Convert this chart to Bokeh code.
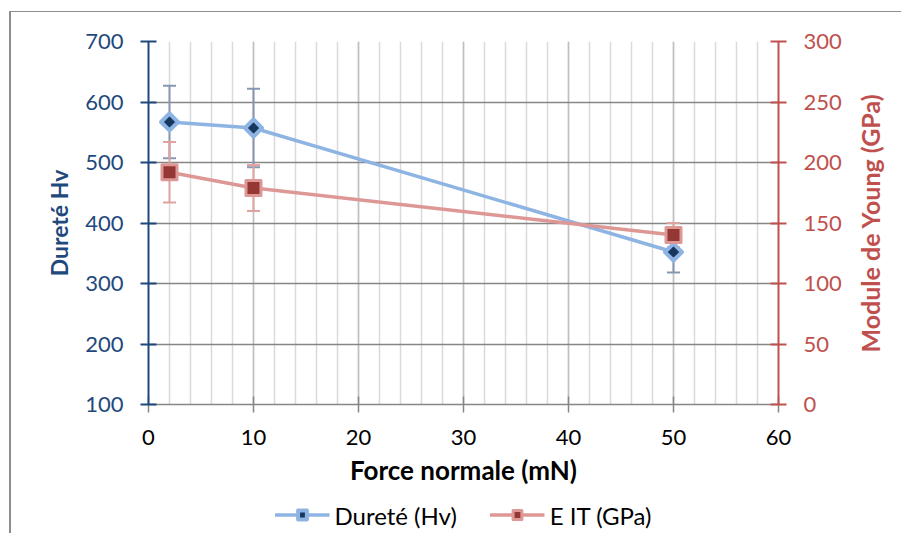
import math
from bokeh.plotting import figure
from bokeh.layouts import row, column
from bokeh.models import (Range1d, LinearAxis, SingleIntervalTicker, FixedTicker,
                          ColumnDataSource, Whisker, TeeHead, Legend, LegendItem)
from bokeh.embed import file_html
from bokeh.resources import INLINE

# ---- data ----
force = [2, 10, 50]                 # Force normale (mN)
durete = [567, 557, 352]            # Dureté Hv
durete_err = [60, 65, 34]
eit = [192, 179, 140]               # E IT (GPa)
eit_err = [25, 19, 10]

FONT = "Lato"
BLUE_AX = "#1F497D"
RED_AX = "#C0504D"
BLUE_LINE = "#8EB4E3"
BLUE_FILL = "#17375E"
BLUE_ERR = "#8797B2"
RED_LINE = "#DD9896"
RED_FILL = "#953735"
RED_ERR = "#E0A3A1"

W_MAIN = 840
H_MAIN = 484
p = figure(width=W_MAIN, height=H_MAIN, output_backend="svg", toolbar_location=None,
           x_range=Range1d(0, 60), y_range=Range1d(100, 700),
           min_border_left=137, min_border_right=73, min_border_top=29,
           min_border_bottom=92, outline_line_color=None,
           background_fill_color="white", border_fill_color="white")
p.extra_y_ranges = {"right": Range1d(0, 300)}

# ---- grids ----
xticker = SingleIntervalTicker(interval=10, num_minor_ticks=5)
yticker = SingleIntervalTicker(interval=100)
p.xgrid.ticker = xticker
p.xgrid.grid_line_color = "#BFBFBF"
p.xgrid.grid_line_width = 1.5
p.xgrid.minor_grid_line_color = "#DADADA"
p.xgrid.minor_grid_line_width = 1.5
p.ygrid.ticker = yticker
p.ygrid.grid_line_color = "#868686"
p.ygrid.grid_line_width = 1.5

# ---- x axis ----
xa = p.xaxis[0]
xa.ticker = xticker
xa.axis_line_color = "#868686"
xa.axis_line_width = 1.5
xa.major_tick_line_color = "#868686"
xa.major_tick_line_width = 1.5
xa.major_tick_in = 8
xa.major_tick_out = 8
xa.minor_tick_line_color = None
xa.major_label_text_font = FONT
xa.major_label_text_font_size = "22px"
xa.major_label_text_color = "black"
xa.major_label_standoff = 17
xa.axis_label = "Force normale (mN)"
xa.axis_label_text_font = FONT
xa.axis_label_text_font_size = "26px"
xa.axis_label_text_font_style = "bold"
xa.axis_label_text_color = "black"
xa.axis_label_standoff = 6

# ---- left axis ----
ya = p.yaxis[0]
ya.ticker = yticker
ya.axis_line_color = BLUE_AX
ya.axis_line_width = 2
ya.major_tick_line_color = BLUE_AX
ya.major_tick_line_width = 2
ya.major_tick_in = 8
ya.major_tick_out = 8
ya.minor_tick_line_color = None
ya.major_label_text_font = FONT
ya.major_label_text_font_size = "22px"
ya.major_label_text_color = BLUE_AX
ya.major_label_standoff = 17
ya.axis_label = "Dureté Hv"
ya.axis_label_text_font = FONT
ya.axis_label_text_font_size = "23px"
ya.axis_label_text_font_style = "bold"
ya.axis_label_text_color = BLUE_AX
ya.axis_label_standoff = 9

# ---- right axis ----
ra = LinearAxis(y_range_name="right", ticker=SingleIntervalTicker(interval=50))
ra.axis_line_color = RED_AX
ra.axis_line_width = 2
ra.major_tick_line_color = RED_AX
ra.major_tick_line_width = 2
ra.major_tick_in = 8
ra.major_tick_out = 8
ra.minor_tick_line_color = None
ra.major_label_text_font = FONT
ra.major_label_text_font_size = "22px"
ra.major_label_text_color = RED_AX
ra.major_label_standoff = 17
p.add_layout(ra, "right")

# ---- error bars ----
bsrc = ColumnDataSource(dict(x=force, y=durete,
                             lo=[v - e for v, e in zip(durete, durete_err)],
                             hi=[v + e for v, e in zip(durete, durete_err)]))
rsrc = ColumnDataSource(dict(x=force, y=eit,
                             lo=[v - e for v, e in zip(eit, eit_err)],
                             hi=[v + e for v, e in zip(eit, eit_err)]))

bw = Whisker(base="x", upper="hi", lower="lo", source=bsrc, dimension="height",
             line_color=BLUE_ERR, line_width=2, level="underlay",
             upper_head=TeeHead(size=13, line_color=BLUE_ERR, line_width=2),
             lower_head=TeeHead(size=13, line_color=BLUE_ERR, line_width=2))
rw = Whisker(base="x", upper="hi", lower="lo", source=rsrc, dimension="height",
             y_range_name="right",
             line_color=RED_ERR, line_width=2, level="underlay",
             upper_head=TeeHead(size=13, line_color=RED_ERR, line_width=2),
             lower_head=TeeHead(size=13, line_color=RED_ERR, line_width=2))
p.add_layout(bw)
p.add_layout(rw)

# ---- series ----
line_b = dict(line_color=BLUE_LINE, line_width=3.5)
mark_b = dict(marker="square", angle=math.pi / 4, size=12, fill_color=BLUE_FILL,
              line_color=BLUE_LINE, line_width=4, line_join="round")
line_r = dict(line_color=RED_LINE, line_width=3.5)
mark_r = dict(marker="square", size=15, fill_color=RED_FILL, line_color=RED_LINE,
              line_width=3, line_join="round")

p.line("x", "y", source=bsrc, **line_b)
p.scatter("x", "y", source=bsrc, **mark_b)
p.line("x", "y", source=rsrc, y_range_name="right", **line_r)
p.scatter("x", "y", source=rsrc, y_range_name="right", **mark_r)

# ---- narrow companion figure carrying the right-hand axis title ----
p2 = figure(width=50, height=H_MAIN, output_backend="svg", toolbar_location=None,
            x_range=Range1d(0, 1), y_range=Range1d(0, 300),
            min_border_left=28, min_border_right=0, min_border_top=29,
            min_border_bottom=92, outline_line_color=None,
            background_fill_color="white", border_fill_color="white")
p2.xaxis.visible = False
p2.grid.visible = False
a2 = p2.yaxis[0]
a2.ticker = FixedTicker(ticks=[])
a2.axis_line_color = None
a2.major_tick_line_color = None
a2.minor_tick_line_color = None
a2.major_tick_out = 0
a2.major_tick_in = 0
a2.axis_label = "Module de Young (GPa)"
a2.axis_label_text_font = FONT
a2.axis_label_text_font_size = "25px"
a2.axis_label_text_font_style = "bold"
a2.axis_label_text_color = RED_AX
a2.axis_label_standoff = 0

# ---- legend strip under the chart (series styles repeated; data lies outside
#      this strip's ranges, so only the legend shows) ----
p3 = figure(width=W_MAIN, height=533 - 12 - H_MAIN, output_backend="svg",
            toolbar_location=None, x_range=Range1d(0, 1), y_range=Range1d(0, 1),
            min_border_left=137, min_border_right=73, min_border_top=0,
            min_border_bottom=0, outline_line_color=None,
            background_fill_color="white", border_fill_color="white")
p3.axis.visible = False
p3.grid.visible = False
lb = p3.line("x", "y", source=bsrc, **line_b)
mb = p3.scatter("x", "y", source=bsrc, **mark_b)
lr = p3.line("x", "y", source=rsrc, **line_r)
mr = p3.scatter("x", "y", source=rsrc, **mark_r)
legend = Legend(items=[LegendItem(label="Dureté (Hv)", renderers=[lb, mb]),
                       LegendItem(label="E IT (GPa)", renderers=[lr, mr])],
                orientation="horizontal", location="center",
                glyph_width=55, glyph_height=22, label_standoff=5, spacing=33,
                padding=0, margin=0, border_line_color=None, background_fill_alpha=0,
                label_text_font=FONT, label_text_font_size="24px", label_text_color="black")
p3.add_layout(legend, "center")

layout = column(row(p, p2, spacing=0), p3, spacing=0)
layout.styles = {"margin-left": "9px", "margin-top": "11px",
                 "border-left": "2px solid #8E8E8E", "border-top": "1px solid #8E8E8E"}

open("out.html", "w").write(file_html(layout, INLINE))
